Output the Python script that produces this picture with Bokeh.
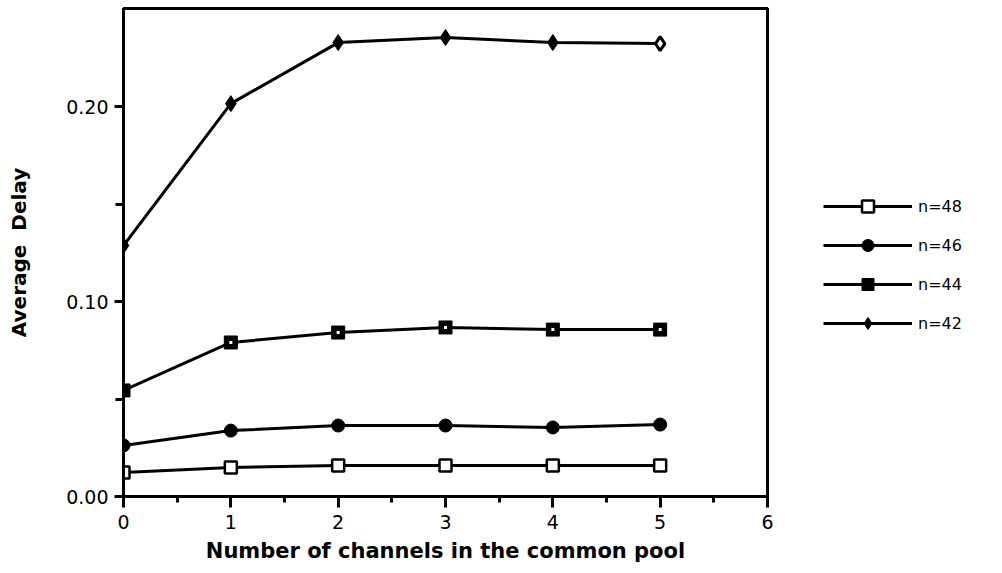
from bokeh.plotting import figure
from bokeh.models import FixedTicker, NumeralTickFormatter, Legend, LegendItem, Range1d
from bokeh.embed import file_html
from bokeh.resources import INLINE

# Number of channels in the common pool
channels = [0, 1, 2, 3, 4, 5]

# Average delay for each pool size n
delay_n48 = [0.0123, 0.0149, 0.0159, 0.0159, 0.0159, 0.0159]
delay_n46 = [0.0262, 0.0338, 0.0364, 0.0364, 0.0354, 0.0369]
delay_n44 = [0.0544, 0.0790, 0.0841, 0.0867, 0.0856, 0.0856]
delay_n42 = [0.1287, 0.2015, 0.2328, 0.2354, 0.2328, 0.2323]

series_labels = ["n=48", "n=46", "n=44", "n=42"]

x_ticks = [0, 1, 2, 3, 4, 5, 6]
y_ticks = [0.0, 0.1, 0.2]

FONT = "DejaVu Sans"

p = figure(frame_width=644, frame_height=488, output_backend="svg", toolbar_location=None,
           x_range=Range1d(0, 6), y_range=Range1d(0, 0.2503),
           min_border_left=123, min_border_right=235,
           min_border_top=8, min_border_bottom=77)
p.grid.visible = False
p.outline_line_color = "black"
p.outline_line_width = 3
p.background_fill_color = "white"
p.border_fill_color = "white"

for ax in (p.xaxis[0], p.yaxis[0]):
    ax.axis_line_width = 3
    ax.major_tick_line_width = 3
    ax.minor_tick_line_width = 3
    ax.major_tick_in = 0
    ax.minor_tick_in = 0
    ax.major_label_text_font = FONT
    ax.major_label_text_font_size = "19px"
    ax.major_label_text_color = "black"
    ax.axis_label_text_font = FONT
    ax.axis_label_text_font_style = "bold"
    ax.axis_label_text_font_size = "20px"
    ax.axis_label_text_color = "black"

p.xaxis.axis_label_text_font_size = "21px"
p.xaxis.major_tick_out = 11
p.xaxis.minor_tick_out = 6
p.yaxis.major_tick_out = 9
p.yaxis.minor_tick_out = 8
p.xaxis.ticker = FixedTicker(ticks=x_ticks, minor_ticks=[v + 0.5 for v in x_ticks[:-1]])
p.yaxis.ticker = FixedTicker(ticks=y_ticks, minor_ticks=[0.05, 0.15])
p.yaxis.formatter = NumeralTickFormatter(format="0.00")
p.xaxis.axis_label = "Number of channels in the common pool"
p.yaxis.axis_label = "Average\u00a0\u00a0Delay"
p.xaxis.major_label_standoff = 7
p.xaxis.axis_label_standoff = 7
p.yaxis.major_label_standoff = 6
p.yaxis.axis_label_standoff = 32

LW = 3

# n=48: open squares
l48 = p.line(channels, delay_n48, line_color="black", line_width=LW)
m48 = p.scatter(channels, delay_n48, marker="square", size=12,
                fill_color="white", line_color="black", line_width=2.5)

# n=46: filled circles
l46 = p.line(channels, delay_n46, line_color="black", line_width=LW)
m46 = p.scatter(channels, delay_n46, marker="circle", size=13,
                fill_color="black", line_color="black")

# n=44: filled squares with a white centre dot
l44 = p.line(channels, delay_n44, line_color="black", line_width=LW)
m44 = p.scatter(channels, delay_n44, marker="square", size=13,
                fill_color="black", line_color="black")
p.scatter(channels, delay_n44, marker="square", size=3,
          fill_color="white", line_color=None)

# n=42: filled diamonds, last point hollow
l42 = p.line(channels, delay_n42, line_color="black", line_width=LW)
m42 = p.scatter(channels[:-1], delay_n42[:-1], marker="diamond", size=16,
                fill_color="black", line_color="black")
p.scatter(channels[-1:], delay_n42[-1:], marker="diamond", size=14,
          fill_color="white", line_color="black", line_width=3)

legend = Legend(items=[
    LegendItem(label=series_labels[0], renderers=[l48, m48]),
    LegendItem(label=series_labels[1], renderers=[l46, m46]),
    LegendItem(label=series_labels[2], renderers=[l44, m44]),
    LegendItem(label=series_labels[3], renderers=[l42, m42]),
], location=(56, 158))
legend.glyph_width = 89
legend.glyph_height = 30
legend.label_height = 30
legend.spacing = 9
legend.padding = 0
legend.margin = 0
legend.label_standoff = 6
legend.border_line_color = None
legend.background_fill_alpha = 0
legend.label_text_font = FONT
legend.label_text_font_size = "16px"
legend.label_text_color = "black"
p.add_layout(legend, "right")

open("out.html", "w").write(file_html(p, INLINE))
